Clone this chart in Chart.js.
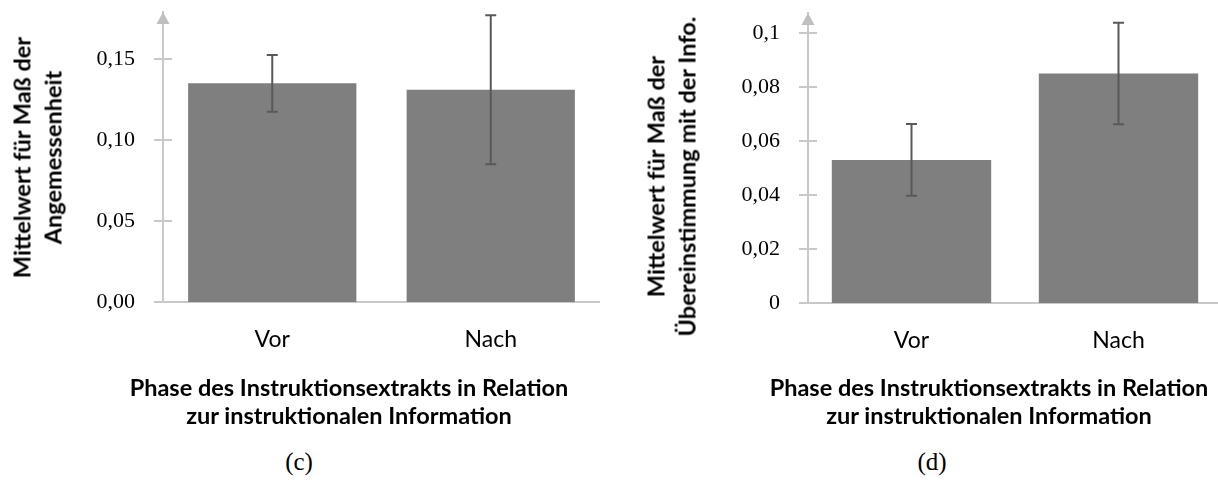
<!DOCTYPE html>
<html>
<head>
<meta charset="utf-8">
<script src="https://cdn.jsdelivr.net/npm/chart.js@4.4.1/dist/chart.umd.min.js"></script>
<style>
  html, body { margin: 0; padding: 0; background: #fff; overflow: hidden; }
  body { width: 1218px; height: 480px; position: relative; }
  .panel { position: absolute; top: 0; height: 440px; }
  .xtitle { position: absolute; width: 600px; text-align: center; font: 700 23.5px Lato, sans-serif; line-height: 28px; color: #000; }
  .ytitle { position: absolute; width: 400px; height: 61px; text-align: center; font: 700 23.5px Lato, sans-serif; line-height: 30.5px; color: #000; transform: rotate(-90deg); transform-origin: 50% 50%; white-space: nowrap; }
  .cap { position: absolute; width: 100px; text-align: center; font: 25px "Liberation Serif", serif; color: #000; }
</style>
</head>
<body>
<div class="panel" style="left:0;width:600px"><canvas id="chartC"></canvas></div>
<div class="panel" style="left:600px;width:622px"><canvas id="chartD"></canvas></div>
<div class="ytitle" style="left:-163px;top:127px">Mittelwert für Maß der<br>Angemessenheit</div>
<div class="ytitle" style="left:471px;top:146px">Mittelwert für Maß der<br>Übereinstimmung mit der Info.</div>
<div class="xtitle" style="left:49px;top:373px">Phase des Instruktionsextrakts in Relation<br>zur instruktionalen Information</div>
<div class="xtitle" style="left:689px;top:373px">Phase des Instruktionsextrakts in Relation<br>zur instruktionalen Information</div>
<div class="cap" style="left:249px;top:448px">(c)</div>
<div class="cap" style="left:882px;top:448px">(d)</div>
<script>
const phases = ["Vor", "Nach"];

// (c) Angemessenheit
const meansC = [0.135, 0.131];
const errC = [0.0175, 0.046];
const ticksC = [0, 0.05, 0.10, 0.15];
const tickLabelsC = ["0,00", "0,05", "0,10", "0,15"];

// (d) Übereinstimmung
const meansD = [0.053, 0.085];
const errD = [0.0133, 0.0188];
const ticksD = [0, 0.02, 0.04, 0.06, 0.08, 0.1];
const tickLabelsD = ["0", "0,02", "0,04", "0,06", "0,08", "0,1"];

const axisGrey = "#c8c8c8";

// arrow on the y axis, tick marks crossing it, error bars
const decor = {
  id: "decor",
  afterDatasetsDraw(chart, args, opts) {
    const ctx = chart.ctx;
    const y = chart.scales.y;
    const x0 = chart.chartArea.left;
    ctx.save();
    ctx.strokeStyle = axisGrey;
    ctx.lineWidth = 2;
    y.ticks.forEach(t => {
      const py = Math.round(y.getPixelForValue(t.value));
      ctx.beginPath();
      ctx.moveTo(x0 - 9, py);
      ctx.lineTo(x0 + 9, py);
      ctx.stroke();
    });
    ctx.fillStyle = "#bfbfbf";
    const top = chart.chartArea.top;
    ctx.beginPath();
    ctx.moveTo(x0, top);
    ctx.lineTo(x0 - 6.5, top + 12);
    ctx.lineTo(x0 + 6.5, top + 12);
    ctx.closePath();
    ctx.fill();

    const meta = chart.getDatasetMeta(0);
    const ds = chart.data.datasets[0];
    ctx.strokeStyle = "#595959";
    ctx.lineWidth = 2;
    meta.data.forEach((bar, i) => {
      const v = ds.data[i], e = opts.err[i];
      const yt = y.getPixelForValue(v + e), yb = y.getPixelForValue(v - e);
      ctx.beginPath();
      ctx.moveTo(bar.x, yt); ctx.lineTo(bar.x, yb);
      ctx.moveTo(bar.x - 5.5, yt); ctx.lineTo(bar.x + 5.5, yt);
      ctx.moveTo(bar.x - 5.5, yb); ctx.lineTo(bar.x + 5.5, yb);
      ctx.stroke();
    });
    ctx.restore();
  }
};

function makeChart(id, means, err, max, tickVals, tickLabels, axisX, padTop, axisY) {
  return new Chart(document.getElementById(id), {
    type: "bar",
    data: {
      labels: phases,
      datasets: [{
        data: means,
        backgroundColor: "#7f7f7f",
        barPercentage: 0.77,
        categoryPercentage: 1
      }]
    },
    plugins: [decor],
    options: {
      responsive: true,
      maintainAspectRatio: false,
      animation: false,
      layout: { padding: { top: padTop, right: 0, left: 0, bottom: 0 } },
      plugins: {
        legend: { display: false },
        tooltip: { enabled: false },
        decor: { err: err }
      },
      scales: {
        x: {
          grid: { display: false, drawTicks: false },
          border: { display: true, color: axisGrey, width: 2 },
          ticks: { color: "#000", font: { family: "Lato", size: 23 }, padding: 24 },
          afterFit(s) { s.height = 440 - axisY; }
        },
        y: {
          min: 0,
          max: max,
          grid: { display: false, drawTicks: true, tickLength: 28 },
          border: { display: true, color: axisGrey, width: 2 },
          afterBuildTicks(s) { s.ticks = tickVals.map(v => ({ value: v })); },
          ticks: {
            color: "#000",
            font: { family: "Liberation Serif", size: 22, lineHeight: 1 },
            padding: 0,
            callback: (v, i) => tickLabels[i]
          },
          afterFit(s) { s.width = axisX; }
        }
      }
    }
  });
}

makeChart("chartC", meansC, errC, 0.179, ticksC, tickLabelsC, 163, 12, 302);
makeChart("chartD", meansD, errD, 0.1074, ticksD, tickLabelsD, 208, 13, 303);
</script>
</body>
</html>
